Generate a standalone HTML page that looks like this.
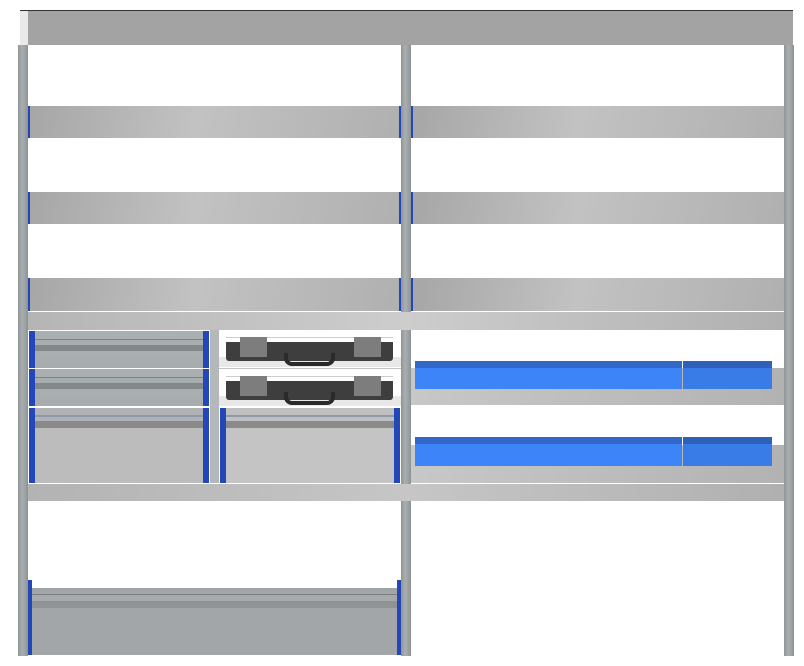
<!DOCTYPE html>
<html><head><style>
body{margin:0;width:804px;height:666px;background:#fff;position:relative;overflow:hidden}
div{position:absolute;box-sizing:border-box}
.post{background:linear-gradient(90deg,#8f9496,#a9aeb0 40%,#9ea3a5 70%,#8c9193);top:45px;height:611px;width:10px}
.shelf{background:linear-gradient(100deg,#a6a6a6,#c2c2c2 45%,#b0b0b0);height:32px}
.b{background:#2347b8}
.dr{background:linear-gradient(180deg,#aab0b2 0,#aab0b2 8px,#7e8284 8px,#7e8284 9px,#a8aeb0 9px,#a8aeb0 14px,#858889 14px,#858889 20px,#aaafb1 20px,#a6abad 100%);border:1px solid #fff}
.case{background:#e8e8e8}
.blue{background:linear-gradient(180deg,#3268c8 0,#3268c8 7px,#3d84f8 7px);}
</style></head><body>
<div style="left:20px;top:10px;width:773px;height:35px;background:#a3a3a3;border-top:1px solid #333"></div>
<div style="left:20px;top:11px;width:8px;height:34px;background:#e9e9e9"></div>
<div class="post" style="left:18px"></div>
<div class="post" style="left:401px"></div>
<div class="post" style="left:784px"></div>
<!-- shelves -->
<div class="shelf" style="left:28px;top:106px;width:373px"></div>
<div class="shelf" style="left:411px;top:106px;width:373px"></div>
<div class="shelf" style="left:28px;top:192px;width:373px"></div>
<div class="shelf" style="left:411px;top:192px;width:373px"></div>
<div class="shelf" style="left:28px;top:278px;width:373px;height:33px"></div>
<div class="shelf" style="left:411px;top:278px;width:373px;height:33px"></div>
<div style="left:28px;top:312px;width:756px;height:18px;background:linear-gradient(90deg,#b5b5b5,#cdcdcd 50%,#b0b0b0)"></div>
<div class="b" style="left:28px;top:106px;width:2px;height:32px"></div>
<div class="b" style="left:28px;top:192px;width:2px;height:32px"></div>
<div class="b" style="left:28px;top:278px;width:2px;height:33px"></div>
<div class="b" style="left:399px;top:106px;width:2px;height:32px"></div>
<div class="b" style="left:411px;top:106px;width:2px;height:32px"></div>
<div class="b" style="left:399px;top:192px;width:2px;height:32px"></div>
<div class="b" style="left:411px;top:192px;width:2px;height:32px"></div>
<div class="b" style="left:399px;top:278px;width:2px;height:33px"></div>
<div class="b" style="left:411px;top:278px;width:2px;height:33px"></div>
<!-- left drawers zone -->
<div style="left:28px;top:330px;width:373px;height:153px;background:#c4c4c4"></div>
<div class="dr" style="left:28px;top:330px;width:182px;height:39px"></div>
<div class="dr" style="left:28px;top:368px;width:182px;height:39px"></div>
<div class="dr" style="left:28px;top:407px;width:182px;height:77px;background:linear-gradient(180deg,#b0b2b6 0,#b0b2b6 7px,#8d9aa8 7px,#8d9aa8 9px,#b0b2b6 9px,#b0b2b6 13px,#8a8a8a 13px,#8a8a8a 20px,#bcbcbc 20px)"></div>
<div class="b" style="left:29px;top:331px;width:6px;height:37px"></div>
<div class="b" style="left:203px;top:331px;width:6px;height:37px"></div>
<div class="b" style="left:29px;top:369px;width:6px;height:37px"></div>
<div class="b" style="left:203px;top:369px;width:6px;height:37px"></div>
<div class="b" style="left:29px;top:408px;width:6px;height:75px"></div>
<div class="b" style="left:203px;top:408px;width:6px;height:75px"></div>
<div style="left:210px;top:330px;width:9px;height:153px;background:#b4b8ba"></div>
<!-- cases -->
<div style="left:219px;top:330px;width:182px;height:38px;background:#fff"></div>
<div style="left:219px;top:369px;width:182px;height:38px;background:#fff"></div>
<div class="case" style="left:219px;top:357px;width:182px;height:10px"></div>
<div class="case" style="left:219px;top:396px;width:182px;height:10px"></div>
<div style="left:226px;top:337px;width:167px;height:24px;background:#3e3e3e;border-radius:3px"></div>
<div style="left:226px;top:376px;width:167px;height:24px;background:#3e3e3e;border-radius:3px"></div>
<div style="left:226px;top:337px;width:167px;height:5px;background:#fff;border-top:1px solid #ccc"></div>
<div style="left:226px;top:376px;width:167px;height:5px;background:#fff;border-top:1px solid #ccc"></div>
<div style="left:240px;top:337px;width:27px;height:20px;background:#7d7d7d"></div>
<div style="left:354px;top:337px;width:27px;height:20px;background:#7d7d7d"></div>
<div style="left:240px;top:376px;width:27px;height:20px;background:#7d7d7d"></div>
<div style="left:354px;top:376px;width:27px;height:20px;background:#7d7d7d"></div>
<div style="left:284px;top:353px;width:51px;height:13px;border:4px solid #2a2a2a;border-top:none;border-radius:0 0 8px 8px"></div>
<div style="left:284px;top:392px;width:51px;height:13px;border:4px solid #2a2a2a;border-top:none;border-radius:0 0 8px 8px"></div>
<div class="dr" style="left:219px;top:407px;width:182px;height:77px;background:linear-gradient(180deg,#c0c0c0 0,#c0c0c0 7px,#8d9aa8 7px,#8d9aa8 9px,#c0c0c0 9px,#c0c0c0 13px,#8a8a8a 13px,#8a8a8a 20px,#c4c4c4 20px)"></div>
<div class="b" style="left:220px;top:408px;width:6px;height:75px"></div>
<div class="b" style="left:394px;top:408px;width:6px;height:75px"></div>
<div style="left:28px;top:484px;width:756px;height:17px;background:linear-gradient(90deg,#b3b3b3,#c6c6c6 50%,#b0b0b0)"></div>
<!-- right side -->
<div style="left:411px;top:330px;width:373px;height:38px;background:#fff"></div>
<div style="left:411px;top:368px;width:373px;height:37px;background:linear-gradient(100deg,#c8c8c8,#b2b2b2)"></div>
<div style="left:411px;top:405px;width:373px;height:40px;background:#fff"></div>
<div style="left:411px;top:445px;width:373px;height:38px;background:linear-gradient(100deg,#c8c8c8,#b2b2b2)"></div>
<div style="left:411px;top:483px;width:373px;height:1px;background:#fff"></div>
<div class="blue" style="left:415px;top:361px;width:267px;height:28px"></div>
<div class="blue" style="left:683px;top:361px;width:89px;height:28px;filter:brightness(.93)"></div>
<div class="blue" style="left:415px;top:437px;width:267px;height:29px"></div>
<div class="blue" style="left:683px;top:437px;width:89px;height:29px;filter:brightness(.93)"></div>
<!-- bottom drawer -->
<div class="b" style="left:28px;top:580px;width:4px;height:75px"></div>
<div class="b" style="left:397px;top:580px;width:4px;height:75px"></div>
<div style="left:32px;top:588px;width:365px;height:67px;background:linear-gradient(180deg,#9fa3a5 0,#a4a8aa 6px,#7a7e80 6px,#7a7e80 7px,#a6aaac 7px,#a6aaac 13px,#909294 13px,#909294 20px,#a2a6a8 20px)"></div>
</body></html>
